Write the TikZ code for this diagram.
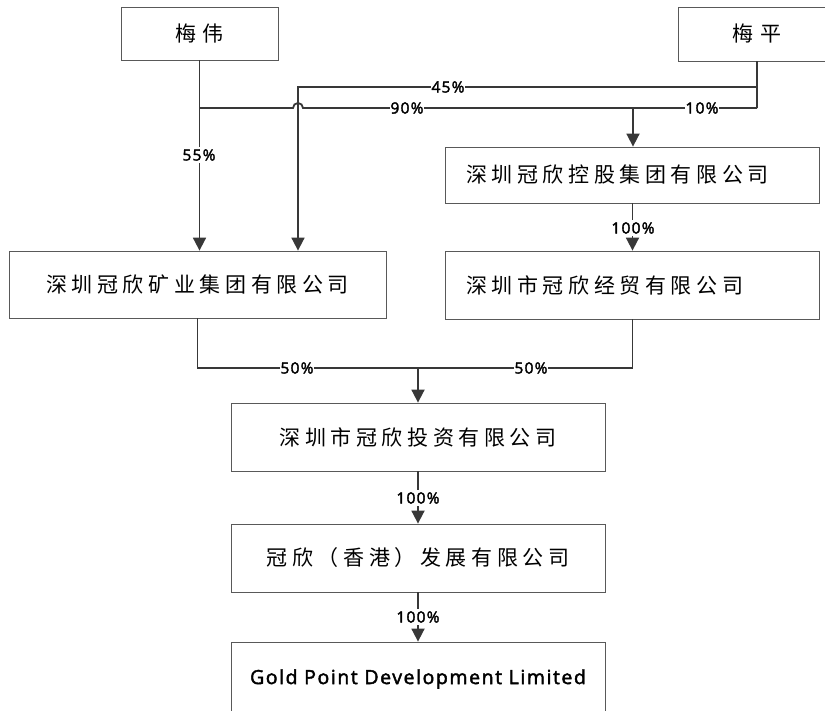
\documentclass[tikz,border=0pt]{standalone}
\usepackage{fontspec}
\usepackage{tikz}
\usetikzlibrary{calc,arrows.meta}
\newfontfamily\cjk[LetterSpace=22]{Noto Sans CJK SC} % 会社名
\newfontfamily\lat[FakeBold=2.2, LetterSpace=8]{Open Sans} % 比率、英文

\begin{document}
\begin{tikzpicture}[x=1pt, y=-1pt, % 画素単位、下向き
  box/.style={draw=black!65, line width=0.8pt, minimum width=374pt, minimum height=68pt, font=\fontsize{21}{24}\cjk}, % 会社の枠
  lbox/.style={box, text width=333pt, align=left, inner xsep=20pt}, % 左寄せの枠
  link/.style={draw=black!78, line width=1.8pt}, % 接続線
  arr/.style={link, -{Triangle[width=13pt,length=13pt]}}, % 矢印
  pct/.style={fill=white, inner xsep=1pt, inner ysep=2pt, font=\fontsize{15.5}{16}\lat}] % 比率
  \useasboundingbox (0,0) rectangle (825,711); % 画像の大きさ

  \node[box, minimum width=157pt, minimum height=53pt] (mw) at (199.5,33.5) {梅\hspace{7pt}伟}; % 株主
  \node[box, minimum width=158pt, minimum height=54pt] (mp) at (757,34) {梅\hspace{7pt}平};
  \node[lbox, minimum height=56pt] (kg) at (632.5,175) {深圳冠欣控股集团有限公司};
  \node[box, minimum width=377pt, minimum height=67pt] (ky) at (197.5,284.5) {深圳冠欣矿业集团有限公司};
  \node[lbox] (jm) at (632.5,285) {深圳市冠欣经贸有限公司};
  \node[box] (tz) at (418,437) {深圳市冠欣投资有限公司};
  \node[box] (xg) at (418,558) {冠欣（香港）发展有限公司};
  \node[box, minimum height=74pt, font=\fontsize{19.5}{22}\lat] (gp) at (418,679) {Gold Point Development Limited};

  \coordinate (mwj) at (199,108); % 90%線の左端
  \coordinate (mpj) at (757,108); % 梅平の分岐
  \coordinate (mpk) at (757,87); % 45%線の右端
  \coordinate (hop) at (298,87); % 45%線の角
  \coordinate (kgj) at (633,108); % 控股への分岐
  \coordinate (m50) at (418,368); % 50%線の合流

  \draw[arr] (mw.south) -- (mw.south |- ky.north); % 55%
  \draw[link] (mp.south) -- (mpj);
  \draw[link] (mwj) -- ($(hop |- mwj)+(-5,0)$) arc[start angle=180, end angle=360, radius=5] -- (mpj); % 跨ぎ線
  \draw[arr] (mpk) -- (hop) -- (hop |- ky.north); % 45%
  \draw[arr] (kgj) -- (kgj |- kg.north); % 控股へ
  \draw[arr] (kg.south) -- (kg.south |- jm.north); % 100%
  \draw[link] (ky.south) -- (ky.south |- m50) -| (jm.south); % 50%
  \draw[arr] (m50) -- (tz.north);
  \draw[arr] (tz.south) -- (xg.north);
  \draw[arr] (xg.south) -- (gp.north);

  \node[pct] (p55) at (199,155) {55\%}; % 比率の文字
  \node[pct] (p45) at (448,87) {45\%};
  \node[pct] (p90) at (407,108) {90\%};
  \node[pct] (p10) at (702,108) {10\%};
  \node[pct] (p100a) at (633,228) {100\%};
  \node[pct] (p50a) at (297,368) {50\%};
  \node[pct] (p50b) at (531,368) {50\%};
  \node[pct] (p100b) at (418,498) {100\%};
  \node[pct] (p100c) at (418,617) {100\%};
\end{tikzpicture}
\end{document}
